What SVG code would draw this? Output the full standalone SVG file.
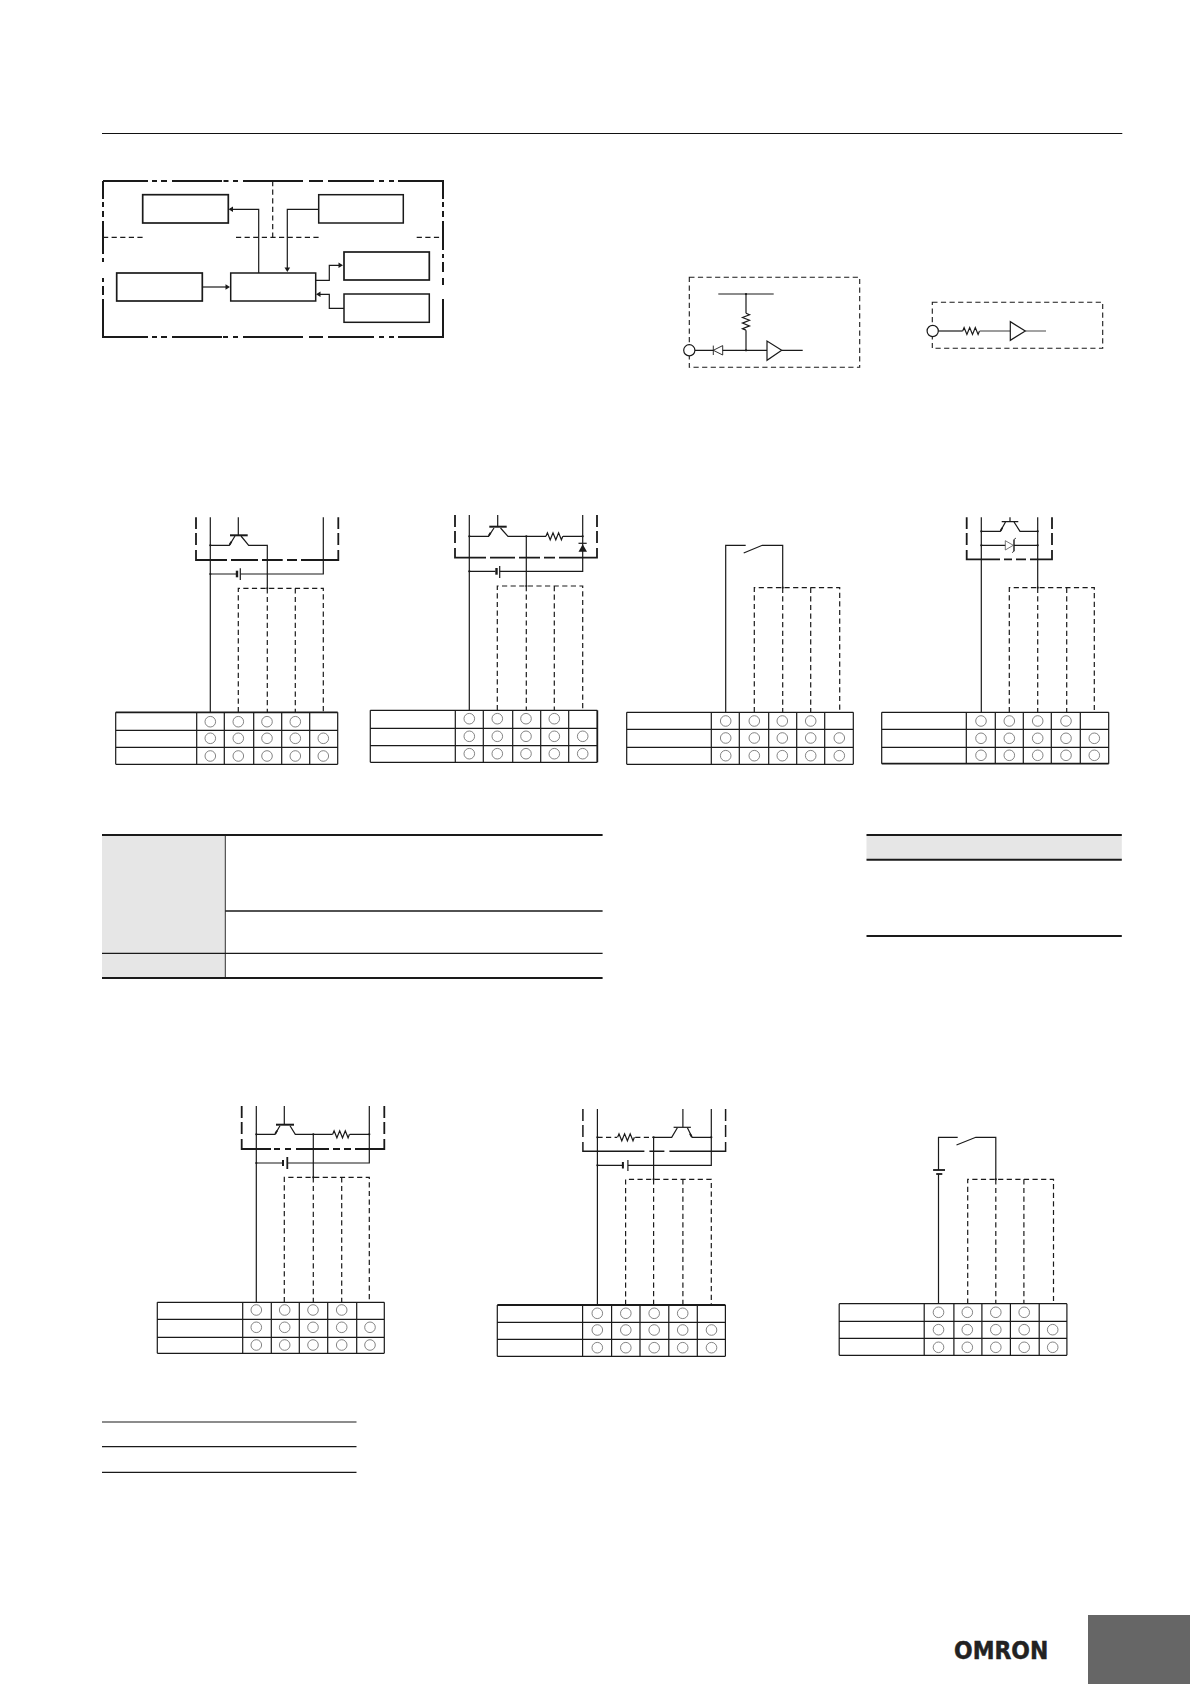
<svg xmlns="http://www.w3.org/2000/svg" width="1190" height="1684" viewBox="0 0 1190 1684">
<style>
path,line,polyline{fill:none;stroke:#1a1a1a;stroke-width:1.2}
.b{fill:#fff;stroke:#1a1a1a;stroke-width:1.5}
.h{stroke-width:2}
.m{stroke-width:1.8}
.d{stroke-dasharray:5.2 3.4}
.c{fill:#fff;stroke:#666;stroke-width:.8}
.o{fill:#fff;stroke:#1a1a1a;stroke-width:1.2}
.w{fill:#fff;stroke:#1a1a1a;stroke-width:1.1}
.f{fill:#1a1a1a;stroke:none}
.g{fill:#e6e6e6;stroke:none}
</style>
<defs>
<path id="res" d="M0 0l1.4-3.5 2.8 7 2.8-7 2.8 7 2.8-7 2.8 7 1.4-3.5"/>
<path id="ar" class="f" style="fill:#1a1a1a;stroke:none" d="M0 0l-4.5-2.8v5.6z"/>
</defs>
<rect width="1190" height="1684" fill="#fff"/>
<line id="header-rule" x1="102" y1="133.5" x2="1122.3" y2="133.5" style="stroke:#111;stroke-width:1"/>

<g id="block-diagram">
<path class="h" d="M103 181H148M152 181H157M161 181H167M172 181H222M223.500 181H228.500M233 181H238M243 181H303M309 181H323M328 181H374M379 181H384M389 181H394M398 181H443V199M443 202V207M443 211V217M443 221V250M443 254V258M443 262V272M443 278V285M443 299V337H398M394 337H389M384 337H379M374 337H328M323 337H309M303 337H243M238 337H233M228 337H223M222 337H172M167 337H161M157 337H152M148 337H103V299M103 295V286M103 282V278M103 262V258M103 254V221M103 217V211M103 207V202M103 199V181"/>
<line class="d" x1="103" y1="237.300" x2="142.700" y2="237.300"/>
<line class="d" x1="236" y1="237.300" x2="318.700" y2="237.300"/>
<line class="d" x1="416.700" y1="237.300" x2="443" y2="237.300"/>
<line class="d" x1="272.700" y1="181" x2="272.700" y2="237.300"/>
</g>
<g id="box-a"><rect class="b" style="stroke-width:1.7" x="142.700" y="194.700" width="85.600" height="28.300"/></g>
<g id="box-b"><rect class="b" x="318.700" y="194.700" width="84.600" height="28.300"/></g>
<g id="box-c"><rect class="b" style="stroke-width:1.7" x="116.700" y="273" width="85.600" height="28"/></g>
<g id="box-d"><rect class="b" x="230.700" y="273" width="85" height="28"/></g>
<g id="box-e"><rect class="b" style="stroke-width:1.7" x="344" y="252" width="85.300" height="28"/></g>
<g id="box-f"><rect class="b" x="344" y="294" width="85.300" height="28.300"/></g>
<g id="block-connectors">
<path d="M258.700 273V209.300H230"/><use href="#ar" transform="translate(228.500 209.300) rotate(180)"/>
<path d="M318.700 209.300H287.300V270"/><use href="#ar" transform="translate(287.300 272) rotate(90)"/>
<path d="M202.300 287H228"/><use href="#ar" transform="translate(230 287)"/>
<path d="M315.700 280.300H329.300V265.300H341"/><use href="#ar" transform="translate(343 265.300)"/>
<path d="M344 308.300H329.300V294.300H318"/><use href="#ar" transform="translate(316 294.300) rotate(180)"/>
</g>

<g id="input-circuit-1">
<rect x="689.300" y="277.300" width="170.400" height="90" style="fill:none;stroke:#1a1a1a;stroke-width:1.1;stroke-dasharray:5.2 3.4"/>
<path d="M718.300 294H773.700M746 294V313.300"/><use href="#res" transform="translate(746 313.300) rotate(90)"/><path d="M746 330.300V350.300M695 350.300H713.300M722.700 350.300H767M781.700 350.300H802.700"/>
<path class="w" d="M713.300 345.600V355M713.300 350.300L722.700 345.600V355Z" style="fill:none;stroke-width:.9"/>
<path class="o" d="M767 341V360.300L781.700 350.300Z"/>
<circle class="f" cx="746" cy="294" r="1.100"/><circle class="f" cx="746" cy="350.300" r="1.100"/>
<circle class="o" cx="689.300" cy="350.300" r="5.600"/>
</g>
<g id="input-circuit-2">
<rect x="932.300" y="302.300" width="170.400" height="46" style="fill:none;stroke:#1a1a1a;stroke-width:1.1;stroke-dasharray:5.2 3.4"/>
<path d="M938 331H962.700"/><use href="#res" x="962.700" y="331"/><path d="M979.700 331H1010.300" style="stroke:#666;stroke-width:1.300"/><path d="M1025.300 331H1046" style="stroke:#666"/>
<path class="o" d="M1010.300 321.700V340.300L1025.300 331Z"/>
<circle class="o" cx="932.700" cy="331" r="5.600"/>
</g>

<g id="wiring-a1">
<path class="m" d="M196 517.300V529M196 533V545M196 550V560H227M231 560H258M262 560H282.700M287 560H297M301 560H338.300V550M338.300 545V533M338.300 529V517.300"/>
<path d="M210.300 517.300V712.300M323.300 517.300V574H240.300M236 574H210.300M238.300 517.300V535.300M210.300 545.300H229.300L235 536M241 536L248.700 545.300H267.300V588.300"/>
<path class="h" d="M230 535.300H247.700"/>
<path class="m" d="M229.600 544.800L231.400 541.600"/>
<path class="h" d="M237 570.700V577.300" style="stroke-width:2.400"/><path d="M240.300 568.300V580"/>
<path class="d" d="M238.300 712.300V588.300H323.300V712.300M267.300 588.300V712.300M295.300 588.300V712.300"/>
<circle class="f" cx="210.300" cy="545.300" r="1.100"/><circle class="f" cx="210.300" cy="574" r="1.100"/><circle class="f" cx="267.300" cy="588.300" r="1.100"/>
</g>
<g id="table-a1">
<path d="M115.700 730.300H337.700M115.700 747.300H337.700M115.700 764.300H337.700M115.700 712.300V764.300M196.700 712.300V764.300M224.300 712.300V764.300M253.700 712.300V764.300M281.700 712.300V764.300M309.700 712.300V764.300M337.700 712.300V764.300"/><path class="m" d="M115.700 712.300H337.700"/>
<circle class="c" cx="210.300" cy="721.700" r="5.300"/><circle class="c" cx="238.300" cy="721.700" r="5.300"/><circle class="c" cx="267" cy="721.700" r="5.300"/><circle class="c" cx="295.300" cy="721.700" r="5.300"/>
<circle class="c" cx="210.300" cy="738.300" r="5.300"/><circle class="c" cx="238.300" cy="738.300" r="5.300"/><circle class="c" cx="267" cy="738.300" r="5.300"/><circle class="c" cx="295.300" cy="738.300" r="5.300"/><circle class="c" cx="323.300" cy="738.300" r="5.300"/>
<circle class="c" cx="210.300" cy="756" r="5.300"/><circle class="c" cx="238.300" cy="756" r="5.300"/><circle class="c" cx="267" cy="756" r="5.300"/><circle class="c" cx="295.300" cy="756" r="5.300"/><circle class="c" cx="323.300" cy="756" r="5.300"/>
</g>

<g id="wiring-a2">
<path class="m" d="M455 515V527M455 531V543M455 548V557.700H486M490 557.700H515M519 557.700H540M544 557.700H555M559 557.700H597V548M597 543V531M597 527V515"/>
<path d="M469.300 515V710.300M582.700 515V571.300H499.700M495.500 571.300H469.300M497.700 515V526.700M469.300 536.300H488.500L494 528M500.500 528L508 536.300H546"/><use href="#res" x="546" y="536.300"/><path d="M563 536.300H582.700M526.300 536.300V586"/>
<path class="h" d="M489.300 526.700H506.700"/>
<path class="m" d="M488.800 535.800L490.600 532.600"/>
<path class="h" d="M496.500 568V574.700" style="stroke-width:2.400"/><path d="M499.700 566V578"/>
<path d="M578.500 543.300H586.700"/><path class="f" d="M578.500 551.700H587L582.700 544.300Z"/>
<path class="d" d="M497.300 710.300V586H582.700V710.300M526.300 586V710.300M554.300 586V710.300"/>
<circle class="f" cx="469.300" cy="536.300" r="1.100"/><circle class="f" cx="469.300" cy="571.300" r="1.100"/><circle class="f" cx="526.300" cy="536.300" r="1.100"/><circle class="f" cx="526.300" cy="586" r="1.100"/><circle class="f" cx="582.700" cy="536.300" r="1.100"/>
</g>
<g id="table-a2">
<path d="M370.300 710.300H597.300M370.300 728.300H597.300M370.300 745.700H597.300M370.300 762.300H597.300M370.300 710.300V762.300M455.300 710.300V762.300M483.300 710.300V762.300M512.700 710.300V762.300M540.700 710.300V762.300M568.700 710.300V762.300"/><path class="m" d="M597.300 710.300V762.300"/>
<circle class="c" cx="469.300" cy="718.700" r="5.300"/><circle class="c" cx="497.300" cy="718.700" r="5.300"/><circle class="c" cx="526" cy="718.700" r="5.300"/><circle class="c" cx="554.300" cy="718.700" r="5.300"/>
<circle class="c" cx="469.300" cy="736.300" r="5.300"/><circle class="c" cx="497.300" cy="736.300" r="5.300"/><circle class="c" cx="526" cy="736.300" r="5.300"/><circle class="c" cx="554.300" cy="736.300" r="5.300"/><circle class="c" cx="582.700" cy="736.300" r="5.300"/>
<circle class="c" cx="469.300" cy="753.700" r="5.300"/><circle class="c" cx="497.300" cy="753.700" r="5.300"/><circle class="c" cx="526" cy="753.700" r="5.300"/><circle class="c" cx="554.300" cy="753.700" r="5.300"/><circle class="c" cx="582.700" cy="753.700" r="5.300"/>
</g>

<g id="wiring-a3">
<path d="M725.700 712.300V545.300H745.700M743.700 553L762.300 545.300H782.700V587.700"/>
<path class="d" d="M754.300 712.300V587.700H839.700V712.300M782.700 587.700V712.300M810.700 587.700V712.300"/>
<circle class="f" cx="782.700" cy="587.700" r="1.100"/>
</g>
<g id="table-a3">
<path d="M626.700 712.300H853.300M626.700 729.300H853.300M626.700 747.300H853.300M626.700 764.300H853.300M626.700 712.300V764.300M711.300 712.300V764.300M739.300 712.300V764.300M768.700 712.300V764.300M796.700 712.300V764.300M824.700 712.300V764.300M853.300 712.300V764.300"/>
<circle class="c" cx="725.700" cy="721" r="5.300"/><circle class="c" cx="754.300" cy="721" r="5.300"/><circle class="c" cx="782.300" cy="721" r="5.300"/><circle class="c" cx="810.700" cy="721" r="5.300"/>
<circle class="c" cx="725.700" cy="738" r="5.300"/><circle class="c" cx="754.300" cy="738" r="5.300"/><circle class="c" cx="782.300" cy="738" r="5.300"/><circle class="c" cx="810.700" cy="738" r="5.300"/><circle class="c" cx="839.300" cy="738" r="5.300"/>
<circle class="c" cx="725.700" cy="755.700" r="5.300"/><circle class="c" cx="754.300" cy="755.700" r="5.300"/><circle class="c" cx="782.300" cy="755.700" r="5.300"/><circle class="c" cx="810.700" cy="755.700" r="5.300"/><circle class="c" cx="839.300" cy="755.700" r="5.300"/>
</g>

<g id="wiring-a4">
<path class="m" d="M966.700 517.300V529M966.700 533V545M966.700 550V559.300H1000M1004 559.300H1012M1016 559.300H1026M1030 559.300H1052V550M1052 545V533M1052 529V517.300"/>
<path d="M981.300 517.300V712.300M1037.700 517.300V587.700M1010 517.300V521.700M1001.700 521.700H1018.300M981.300 531.300H1000.300L1005.500 522M1014 522L1020 531.300H1037.700M981.300 545.300H1005.300M1014 545.300H1037.700"/>
<path class="m" d="M1000.600 530.800L1002.200 527.800"/>
<path d="M1005.300 540.700V550L1013.300 545.300Z" style="stroke:#555;stroke-width:.8"/><path class="m" d="M1014 539.500V551.200" style="stroke-width:1.400"/>
<path d="M1014 539.500l2-1.500M1014 551.200l-2 1.500" style="stroke-width:.8"/>
<path class="d" d="M1009.300 712.300V587.700H1094.300V712.300M1037.700 587.700V712.300M1066.700 587.700V712.300"/>
<circle class="f" cx="981.300" cy="531.300" r="1.100"/><circle class="f" cx="981.300" cy="545.300" r="1.100"/><circle class="f" cx="1037.700" cy="531.300" r="1.100"/><circle class="f" cx="1037.700" cy="545.300" r="1.100"/><circle class="f" cx="1037.700" cy="587.700" r="1.100"/>
</g>
<g id="table-a4">
<path d="M881.700 712.300H1108.700M881.700 729.300H1108.700M881.700 747.300H1108.700M881.700 712.300V763.700M966.300 712.300V763.700M995.300 712.300V763.700M1023.300 712.300V763.700M1051.300 712.300V763.700M1080.300 712.300V763.700M1108.700 712.300V763.700"/><path class="m" d="M881.700 763.700H1108.700"/>
<circle class="c" cx="981" cy="721" r="5.300"/><circle class="c" cx="1009.300" cy="721" r="5.300"/><circle class="c" cx="1037.700" cy="721" r="5.300"/><circle class="c" cx="1066" cy="721" r="5.300"/>
<circle class="c" cx="981" cy="738.300" r="5.300"/><circle class="c" cx="1009.300" cy="738.300" r="5.300"/><circle class="c" cx="1037.700" cy="738.300" r="5.300"/><circle class="c" cx="1066" cy="738.300" r="5.300"/><circle class="c" cx="1094.300" cy="738.300" r="5.300"/>
<circle class="c" cx="981" cy="755.300" r="5.300"/><circle class="c" cx="1009.300" cy="755.300" r="5.300"/><circle class="c" cx="1037.700" cy="755.300" r="5.300"/><circle class="c" cx="1066" cy="755.300" r="5.300"/><circle class="c" cx="1094.300" cy="755.300" r="5.300"/>
</g>

<g id="spec-table-1">
<rect class="g" x="102" y="835" width="123.300" height="143"/>
<path d="M225.300 835V978" style="stroke-width:.9"/>
<path style="stroke-width:1.300" d="M225.300 911H602.600M102 953.300H602.600"/>
<path class="h" d="M102 835H602.600M102 978H602.600"/>
</g>
<g id="spec-table-2">
<rect class="g" x="866.500" y="835" width="255.300" height="24.700"/>
<path class="h" d="M866.500 835H1121.800M866.500 859.700H1121.800M866.500 936H1121.800"/>
</g>

<g id="wiring-b1">
<path class="m" d="M241.700 1106V1118M241.700 1122V1134M241.700 1139V1149H271M274 1149H280M285 1149H291M296 1149H329M333 1149H340M344 1149H351M355 1149H384.300V1139M384.300 1134V1122M384.300 1118V1106"/>
<path d="M256.300 1106V1302.300M369.300 1106V1163H287.300M282.700 1163H256.300M284.300 1106V1124.700M256.300 1134.300H275L280 1125.700M290 1125.700L295.300 1134.300H332.700"/><use href="#res" x="332.700" y="1134.300"/><path d="M349.700 1134.300H369.300M313.300 1134.300V1177.300"/>
<path class="h" d="M276 1124.700H294"/>
<path class="m" d="M275.300 1133.800L277.100 1130.600"/>
<path class="h" d="M283 1160V1166"/><path class="m" d="M287.300 1157V1169"/>
<path class="d" d="M284.300 1302.300V1177.300H369.300V1302.300M313.300 1177.300V1302.300M341.700 1177.300V1302.300"/>
<circle class="f" cx="256.300" cy="1134.300" r="1.100"/><circle class="f" cx="256.300" cy="1163" r="1.100"/><circle class="f" cx="313.300" cy="1134.300" r="1.100"/><circle class="f" cx="313.300" cy="1177.300" r="1.100"/><circle class="f" cx="369.300" cy="1134.300" r="1.100"/>
</g>
<g id="table-b1">
<path d="M157.300 1302.300H384.300M157.300 1319.300H384.300M157.300 1337.300H384.300M157.300 1353.300H384.300M157.300 1302.300V1353.300M242.700 1302.300V1353.300M271.300 1302.300V1353.300M299.300 1302.300V1353.300M327.700 1302.300V1353.300M356.700 1302.300V1353.300M384.300 1302.300V1353.300"/>
<circle class="c" cx="256.300" cy="1310" r="5.300"/><circle class="c" cx="284.700" cy="1310" r="5.300"/><circle class="c" cx="313" cy="1310" r="5.300"/><circle class="c" cx="341.700" cy="1310" r="5.300"/>
<circle class="c" cx="256.300" cy="1327.300" r="5.300"/><circle class="c" cx="284.700" cy="1327.300" r="5.300"/><circle class="c" cx="313" cy="1327.300" r="5.300"/><circle class="c" cx="341.700" cy="1327.300" r="5.300"/><circle class="c" cx="370" cy="1327.300" r="5.300"/>
<circle class="c" cx="256.300" cy="1345" r="5.300"/><circle class="c" cx="284.700" cy="1345" r="5.300"/><circle class="c" cx="313" cy="1345" r="5.300"/><circle class="c" cx="341.700" cy="1345" r="5.300"/><circle class="c" cx="370" cy="1345" r="5.300"/>
</g>

<g id="wiring-b2" transform="translate(-0.6 0)">
<path style="stroke-width:1.500" d="M583.500 1109V1121M583.500 1125V1137M583.500 1142V1151.300H645M650 1151.300H665M670 1151.300H726.200V1142M726.200 1137V1125M726.200 1121V1109"/>
<path d="M598 1109V1305M711.900 1109V1165.300H628.500M624.200 1165.300H598M683.500 1109V1127.300M654.200 1137.300H672.300L678 1127.800M688 1127.800L692.700 1137.300H711.900M654.200 1137.300V1179.300"/>
<path d="M674.200 1127.300H691.500"/>
<path class="m" d="M692.300 1136.800L690.500 1133.600"/>
<path class="d" d="M598 1137.300H617.700M635.800 1137.300H654.200"/><use href="#res" x="618.200" y="1137.300"/>
<path class="h" d="M623.500 1162V1168.500"/><path d="M628.500 1160V1171"/>
<path class="d" d="M626.200 1305V1179.300H711.900V1305M654.200 1179.300V1305M683.500 1179.300V1305"/>
<circle class="f" cx="598" cy="1137.300" r="1.100"/><circle class="f" cx="598" cy="1165.300" r="1.100"/><circle class="f" cx="654.200" cy="1137.300" r="1.100"/><circle class="f" cx="654.200" cy="1179.300" r="1.100"/><circle class="f" cx="711.900" cy="1137.300" r="1.100"/>
</g>
<g id="table-b2" transform="translate(-0.4 0)">
<path d="M497.700 1322.300H725.800M497.700 1339.300H725.800M497.700 1356.300H725.800M497.700 1305V1356.300M583 1305V1356.300M612 1305V1356.300M640.400 1305V1356.300M669.200 1305V1356.300M697.700 1305V1356.300M725.800 1305V1356.300"/><path class="m" d="M497.700 1305H725.800"/>
<circle class="c" cx="597.700" cy="1313.300" r="5.300"/><circle class="c" cx="626.200" cy="1313.300" r="5.300"/><circle class="c" cx="654.600" cy="1313.300" r="5.300"/><circle class="c" cx="683.100" cy="1313.300" r="5.300"/>
<circle class="c" cx="597.700" cy="1330" r="5.300"/><circle class="c" cx="626.200" cy="1330" r="5.300"/><circle class="c" cx="654.600" cy="1330" r="5.300"/><circle class="c" cx="683.100" cy="1330" r="5.300"/><circle class="c" cx="711.900" cy="1330" r="5.300"/>
<circle class="c" cx="597.700" cy="1347.700" r="5.300"/><circle class="c" cx="626.200" cy="1347.700" r="5.300"/><circle class="c" cx="654.600" cy="1347.700" r="5.300"/><circle class="c" cx="683.100" cy="1347.700" r="5.300"/><circle class="c" cx="711.900" cy="1347.700" r="5.300"/>
</g>

<g id="wiring-b3" transform="translate(-2.3 0)">
<path d="M940.800 1303.700V1174M940.800 1170V1137.300H960M958.800 1145L978.100 1137.300H998.100V1179.300"/>
<path class="m" d="M935.400 1170H947.300"/><path class="m" d="M938.500 1174H944.600"/>
<path class="d" d="M970 1303.700V1179.300H1055.800V1303.700M998.100 1179.300V1303.700M1026.200 1179.300V1303.700"/>
<circle class="f" cx="998.100" cy="1179.300" r="1.100"/>
</g>
<g id="table-b3" transform="translate(-2.3 0)">
<path d="M841.500 1303.700H1069.200M841.500 1321.300H1069.200M841.500 1338.300H1069.200M841.500 1355.300H1069.200M841.500 1303.700V1355.300M926.500 1303.700V1355.300M956.200 1303.700V1355.300M984.200 1303.700V1355.300M1012.700 1303.700V1355.300M1041.500 1303.700V1355.300M1069.200 1303.700V1355.300"/>
<circle class="c" cx="940.800" cy="1312.300" r="5.300"/><circle class="c" cx="969.600" cy="1312.300" r="5.300"/><circle class="c" cx="998.100" cy="1312.300" r="5.300"/><circle class="c" cx="1026.500" cy="1312.300" r="5.300"/>
<circle class="c" cx="940.800" cy="1329.700" r="5.300"/><circle class="c" cx="969.600" cy="1329.700" r="5.300"/><circle class="c" cx="998.100" cy="1329.700" r="5.300"/><circle class="c" cx="1026.500" cy="1329.700" r="5.300"/><circle class="c" cx="1055" cy="1329.700" r="5.300"/>
<circle class="c" cx="940.800" cy="1347.300" r="5.300"/><circle class="c" cx="969.600" cy="1347.300" r="5.300"/><circle class="c" cx="998.100" cy="1347.300" r="5.300"/><circle class="c" cx="1026.500" cy="1347.300" r="5.300"/><circle class="c" cx="1055" cy="1347.300" r="5.300"/>
</g>

<g id="spec-table-3">
<path d="M102 1422H356.500M102 1446.700H356.500M102 1472.400H356.500"/>
</g>

<g id="footer">
<rect x="1088" y="1615" width="102" height="69" fill="#666"/>
<text x="954" y="1658.500" font-family="'DejaVu Sans','Liberation Sans',sans-serif" font-weight="700" font-size="25.500" textLength="94.300" lengthAdjust="spacingAndGlyphs" fill="#222" stroke="#222" stroke-width=".5">OMRON</text>
</g>
</svg>
